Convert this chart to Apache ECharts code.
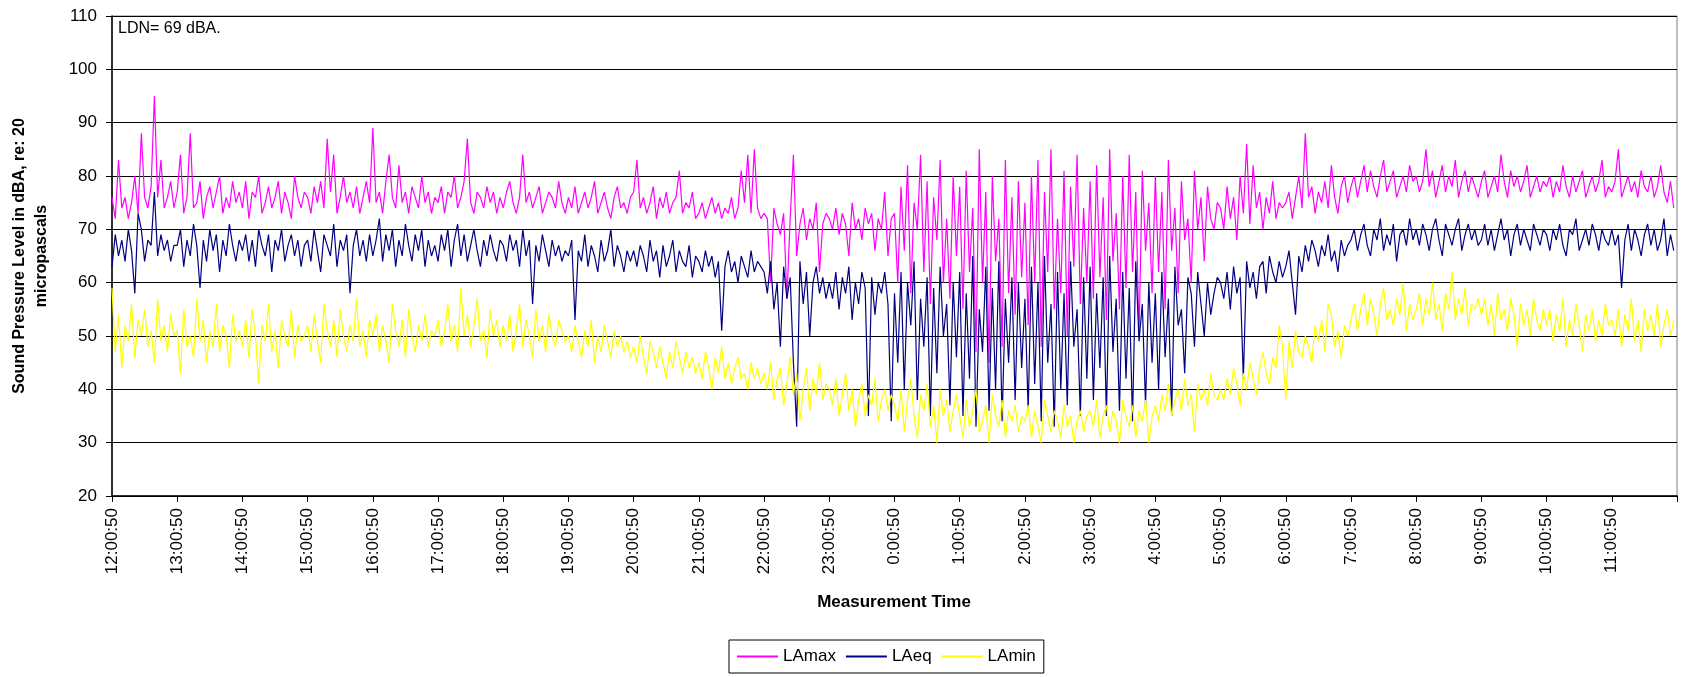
<!DOCTYPE html>
<html>
<head>
<meta charset="utf-8">
<script src="https://cdn.jsdelivr.net/npm/echarts@6/dist/echarts.min.js"></script>
<style>
  html, body { margin: 0; padding: 0; background: #fff; }
  #chart { width: 1683px; height: 677px; }
</style>
</head>
<body>
<div id="chart"></div>
<script>
// readings every 3 minutes from 12:00:50, one row per hour
var lamax = [
  76,72,83,74,76,72,75,80,73,88,76,74,78,95,76,83,74,76,79,74,
  77,84,73,76,88,74,75,79,72,76,78,74,77,80,73,76,74,79,75,77,
  74,79,72,77,76,80,73,75,78,74,76,79,73,77,75,72,80,76,74,77,
  76,73,78,75,79,74,87,77,84,73,76,80,75,77,74,78,73,76,79,75,
  89,75,77,73,79,84,76,74,82,75,77,73,78,76,74,80,75,77,73,76,
  75,78,73,77,76,80,74,76,79,87,75,73,77,76,74,78,75,77,73,76,
  74,77,79,75,73,76,84,75,77,74,76,78,73,75,77,76,74,79,75,73,
  76,74,78,73,75,77,74,76,79,73,75,77,74,72,76,78,74,75,73,76,
  77,83,74,76,73,75,78,72,76,74,77,73,75,76,81,73,75,74,77,72,
  73,75,72,74,76,73,75,72,74,73,76,72,74,81,75,84,73,85,74,72,
  73,72,60,74,71,69,73,57,72,84,65,71,74,68,72,70,75,62,71,73,
  72,70,74,69,73,71,65,75,70,72,68,74,71,73,66,72,70,77,65,72,
  73,60,78,66,82,58,75,70,84,62,79,56,76,68,83,60,72,57,80,65,
  78,55,81,62,74,47,85,60,77,45,80,64,72,48,83,58,76,54,79,61,
  75,52,80,60,83,48,77,62,85,55,72,58,81,50,78,63,84,56,74,60,
  79,57,82,61,76,53,85,64,73,55,80,59,84,62,77,50,81,66,75,58,
  80,62,77,55,83,66,74,58,79,68,72,60,81,70,76,64,78,72,70,75,
  74,70,78,72,76,68,80,73,86,71,82,74,77,70,76,73,79,72,75,74,
  75,77,72,76,80,74,88,76,78,73,77,75,79,74,82,76,73,78,80,75,
  78,80,76,79,82,77,81,78,76,80,83,77,79,81,76,78,80,77,82,79,
  80,77,79,85,78,81,76,79,82,77,80,78,83,76,79,81,77,80,78,76,
  79,81,76,78,80,77,84,79,76,81,78,80,77,79,82,76,78,80,77,79,
  78,80,76,79,77,82,78,76,80,77,79,81,76,78,80,77,79,83,76,78,
  77,79,85,76,78,80,77,79,76,81,78,77,80,76,78,82,77,75,79,74
];
var laeq = [
  63,69,65,68,64,70,66,58,73,70,64,68,67,77,65,69,66,68,64,67,
  67,70,63,68,65,71,67,59,68,64,70,66,69,62,68,65,71,67,64,68,
  66,69,64,68,63,70,67,65,69,62,68,66,70,64,67,69,65,68,63,67,
  68,64,70,66,62,69,67,65,71,63,68,66,69,58,67,70,65,68,64,69,
  65,68,72,64,69,66,70,63,68,65,71,67,64,69,66,70,63,68,65,67,
  64,69,66,70,63,68,71,65,69,64,67,70,66,63,68,65,69,66,64,68,
  67,64,69,66,68,63,70,65,68,56,67,64,69,66,63,68,65,67,64,66,
  65,68,53,66,64,69,63,67,65,62,68,64,66,70,63,67,65,62,66,64,
  66,63,67,65,62,68,64,66,61,67,63,65,68,62,66,64,63,67,61,65,
  64,62,66,63,65,61,64,51,63,66,62,64,60,65,63,61,66,62,64,63,
  62,58,64,55,60,48,63,57,61,45,33,64,56,62,50,60,63,58,61,57,
  60,57,62,55,61,58,63,53,60,56,62,59,35,61,54,60,58,62,56,34,
  58,45,62,40,60,52,64,38,57,48,61,35,59,43,63,50,56,37,60,46,
  62,35,58,42,65,33,55,47,63,36,59,40,64,34,57,45,61,38,60,44,
  57,36,63,41,60,34,65,45,56,33,62,40,58,37,64,48,55,35,61,42,
  63,38,58,44,61,35,65,47,57,36,62,42,59,34,64,49,56,37,60,45,
  58,40,62,46,57,35,63,52,55,43,61,58,48,62,56,50,60,54,58,61,
  60,57,62,55,63,58,61,42,64,59,62,57,63,64,58,65,62,60,64,61,
  63,66,60,54,65,62,67,64,68,66,63,67,65,69,64,66,62,68,65,67,
  68,70,66,69,71,67,65,70,68,72,66,69,67,71,64,69,70,67,72,68,
  70,67,71,69,66,70,72,68,65,71,69,67,70,72,66,69,71,68,70,67,
  68,71,67,70,66,69,72,68,70,65,69,71,67,70,68,66,71,69,67,70,
  69,66,70,68,71,67,65,70,69,72,66,68,70,67,71,69,66,70,68,67,
  70,67,69,59,68,71,66,70,68,65,69,71,67,70,66,68,72,65,69,66
];
var lamin = [
  59,47,54,44,52,49,56,46,53,50,55,48,51,45,57,49,52,47,54,50,
  51,43,55,48,50,46,57,49,53,45,51,48,56,47,52,50,44,54,49,51,
  48,53,46,55,50,41,52,49,56,47,51,44,53,50,48,55,46,52,49,50,
  52,47,54,49,45,56,51,48,53,46,55,50,47,52,49,57,48,51,46,53,
  50,54,47,52,49,45,56,51,48,53,46,55,50,47,52,49,54,48,51,50,
  53,48,51,56,49,52,47,59,50,54,48,52,57,49,51,46,55,50,53,48,
  52,49,54,47,51,56,48,53,50,46,55,49,52,47,54,50,48,53,51,49,
  50,47,52,49,46,51,48,53,45,50,47,52,49,46,51,48,50,47,49,46,
  48,45,50,46,43,49,47,44,48,45,42,47,44,49,46,43,47,44,46,43,
  45,42,47,44,40,46,43,48,42,45,41,44,46,42,43,40,45,42,44,41,
  43,40,45,38,42,44,37,41,46,39,43,34,40,44,36,42,39,45,38,41,
  40,37,42,35,39,43,36,40,33,38,41,35,39,37,42,34,38,40,36,39,
  37,34,40,32,38,42,35,31,39,36,41,33,37,30,40,35,38,32,36,39,
  35,31,38,33,36,40,32,34,37,30,39,35,33,38,31,36,34,37,32,35,
  34,37,31,36,33,30,38,35,32,36,34,31,37,33,35,30,34,36,32,35,
  36,33,38,31,35,37,32,36,34,30,38,35,33,37,31,36,34,38,30,35,
  37,34,39,36,41,35,38,40,36,42,37,39,32,41,38,40,37,43,39,38,
  40,38,42,39,44,41,37,43,40,45,42,39,44,47,43,41,46,44,52,48,
  38,49,44,51,47,46,50,48,45,52,49,53,47,56,54,48,51,46,52,50,
  53,56,51,55,58,52,57,54,50,56,59,53,55,52,57,54,60,51,56,53,
  55,58,52,57,54,60,53,56,51,58,55,62,53,57,54,59,52,56,55,57,
  54,57,52,56,50,58,53,55,51,57,54,48,56,52,55,50,57,53,51,55,
  52,55,49,54,51,57,48,53,50,56,52,47,54,51,55,49,53,50,56,52,
  53,50,55,48,54,51,57,49,53,47,55,51,54,50,56,48,52,55,50,53
];
var stepMinutes = 3;
var yTitle = 'Sound Pressure Level in dBA, re: 20\nmicropascals';
var note = 'LDN= 69 dBA.';

function pairs(arr) {
  return arr.map(function (v, i) { return [i * stepMinutes, v]; });
}
function timeLabel(m) {
  if (m >= 1440) return '';
  return ((12 + m / 60) % 24) + ':00:50';
}

var font = '"Liberation Sans", Arial, sans-serif';
var chart = echarts.init(document.getElementById('chart'));
chart.setOption({
  animation: false,
  backgroundColor: '#fff',
  textStyle: { fontFamily: font },
  grid: {
    left: 112, right: 6, top: 16, bottom: 181,
    show: true, borderColor: '#808080', borderWidth: 1
  },
  xAxis: {
    type: 'value', min: 0, max: 1440, interval: 60,
    axisLine: { lineStyle: { color: '#000', width: 1.5 } },
    axisTick: { show: true, length: 6, lineStyle: { color: '#000' } },
    axisLabel: {
      rotate: 90, margin: 12, fontSize: 17, color: '#000',
      fontFamily: font, formatter: timeLabel
    },
    splitLine: { show: false }
  },
  yAxis: {
    type: 'value', min: 20, max: 110, interval: 10,
    axisLine: { show: true, lineStyle: { color: '#000', width: 1.5 } },
    axisTick: { show: true, length: 6, lineStyle: { color: '#000' } },
    axisLabel: { margin: 15, fontSize: 17, color: '#000', fontFamily: font },
    splitLine: { lineStyle: { color: '#000', width: 1.2 } }
  },
  legend: {
    left: 729, top: 640,
    padding: [8, 8, 8, 8],
    icon: 'rect',
    itemWidth: 41, itemHeight: 2, itemGap: 10,
    borderColor: '#000', borderWidth: 1,
    textStyle: { fontSize: 17, color: '#000', fontFamily: font },
    data: ['LAmax', 'LAeq', 'LAmin']
  },
  graphic: [
    {
      type: 'text', left: 118, top: 21,
      style: { text: note, font: '16px ' + font, fill: '#000' }
    },
    {
      type: 'text', x: 31, y: 256, rotation: Math.PI / 2,
      style: {
        text: yTitle, font: 'bold 16px ' + font, fill: '#000',
        align: 'center', verticalAlign: 'middle', lineHeight: 22
      }
    },
    {
      type: 'text', x: 894, y: 602,
      style: {
        text: 'Measurement Time', font: 'bold 17px ' + font, fill: '#000',
        align: 'center', verticalAlign: 'middle'
      }
    }
  ],
  series: [
    {
      name: 'LAmax', type: 'line', symbol: 'none',
      lineStyle: { color: '#FF00FF', width: 1.2 }, itemStyle: { color: '#FF00FF' },
      data: pairs(lamax)
    },
    {
      name: 'LAeq', type: 'line', symbol: 'none',
      lineStyle: { color: '#000080', width: 1.2 }, itemStyle: { color: '#000080' },
      data: pairs(laeq)
    },
    {
      name: 'LAmin', type: 'line', symbol: 'none',
      lineStyle: { color: '#FFFF00', width: 1.2 }, itemStyle: { color: '#FFFF00' },
      data: pairs(lamin)
    }
  ]
});
</script>
</body>
</html>
